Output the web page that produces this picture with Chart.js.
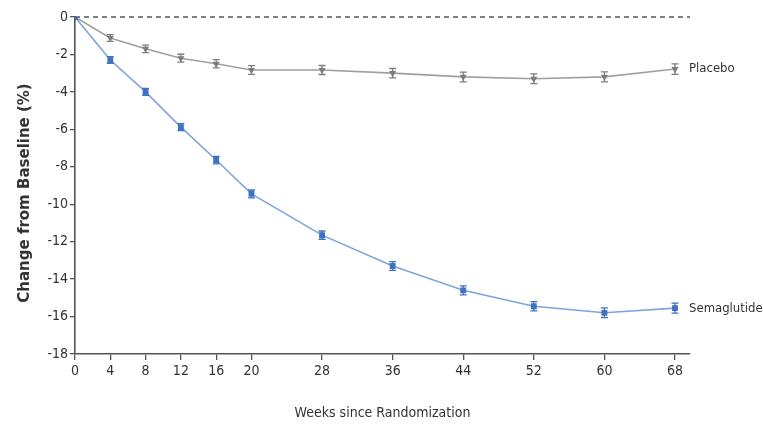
<!DOCTYPE html>
<html>
<head>
<meta charset="utf-8">
<script src="https://cdn.jsdelivr.net/npm/chart.js@4/dist/chart.umd.min.js"></script>
<style>
  html, body { margin: 0; padding: 0; background: #fff; }
  #wrap { width: 763px; height: 426px; }
</style>
</head>
<body>
<div id="wrap"><canvas id="chart" width="763" height="426"></canvas></div>
<script>
const weeks = [0, 4, 8, 12, 16, 20, 28, 36, 44, 52, 60, 68];
const xTicks = [0, 4, 8, 12, 16, 20, 28, 36, 44, 52, 60, 68];
const placebo = [0, -1.12, -1.7, -2.2, -2.5, -2.83, -2.83, -3.0, -3.2, -3.3, -3.2, -2.78];
const placeboErr = [0, 0.1, 0.12, 0.13, 0.14, 0.15, 0.16, 0.17, 0.18, 0.18, 0.19, 0.2];
const sema = [0, -2.3, -4.0, -5.88, -7.64, -9.45, -11.65, -13.3, -14.6, -15.45, -15.8, -15.55];
const semaErr = [0, 0.1, 0.1, 0.11, 0.12, 0.13, 0.14, 0.15, 0.16, 0.17, 0.18, 0.19];
const yTicks = [0, -2, -4, -6, -8, -10, -12, -14, -16, -18];

const FONT = '"Liberation Sans Narrow", "DejaVu Sans Condensed", sans-serif';

const extras = {
  id: 'extras',
  beforeDatasetsDraw(c) {
    const { ctx, chartArea, scales } = c;
    const y0 = scales.y.getPixelForValue(0);
    ctx.save();
    ctx.strokeStyle = '#555';
    ctx.lineWidth = 1.6;
    ctx.setLineDash([5, 4]);
    ctx.beginPath();
    ctx.moveTo(chartArea.left, y0);
    ctx.lineTo(chartArea.right, y0);
    ctx.stroke();
    ctx.restore();
  },
  afterDatasetsDraw(c) {
    const { ctx, scales } = c;
    const errs = [semaErr, placeboErr];
    ctx.save();
    c.data.datasets.forEach((ds, di) => {
      ctx.strokeStyle = ds.pointBackgroundColor;
      ctx.lineWidth = 1.3;
      ds.data.forEach((p, i) => {
        const e = errs[di][i];
        if (!e) return;
        const x = scales.x.getPixelForValue(p.x);
        const yt = scales.y.getPixelForValue(p.y + e) - 1.5;
        const yb = scales.y.getPixelForValue(p.y - e) + 1.5;
        ctx.beginPath();
        ctx.moveTo(x, yt); ctx.lineTo(x, yb);
        ctx.moveTo(x - 3.5, yt); ctx.lineTo(x + 3.5, yt);
        ctx.moveTo(x - 3.5, yb); ctx.lineTo(x + 3.5, yb);
        ctx.stroke();
      });
      const last = ds.data[ds.data.length - 1];
      ctx.fillStyle = '#333';
      ctx.font = '13px ' + FONT;
      ctx.textBaseline = 'middle';
      ctx.textAlign = 'left';
      ctx.fillText(ds.label, scales.x.getPixelForValue(last.x) + 14, scales.y.getPixelForValue(last.y));
    });

    // y axis title, placed slightly below the plot centre as in the source
    ctx.translate(25, 193);
    ctx.rotate(-Math.PI / 2);
    ctx.fillStyle = '#333';
    ctx.font = 'bold 15px "DejaVu Sans", sans-serif';
    ctx.textAlign = 'center';
    ctx.textBaseline = 'middle';
    ctx.fillText('Change from Baseline (%)', 0, 0);
    ctx.restore();
  }
};

new Chart(document.getElementById('chart'), {
  type: 'line',
  data: {
    datasets: [
      {
        label: 'Semaglutide',
        data: weeks.map((w, i) => ({ x: w, y: sema[i] })),
        borderColor: '#7da5dd',
        borderWidth: 1.6,
        pointStyle: 'rect',
        pointRadius: 3,
        pointBackgroundColor: '#3f72c2',
        pointBorderColor: '#3f72c2',
        tension: 0
      },
      {
        label: 'Placebo',
        data: weeks.map((w, i) => ({ x: w, y: placebo[i] })),
        borderColor: '#a0a0a0',
        borderWidth: 1.6,
        pointStyle: 'triangle',
        rotation: 180,
        pointRadius: 2.5,
        pointBackgroundColor: '#7d7d7d',
        pointBorderColor: '#7d7d7d',
        tension: 0
      }
    ]
  },
  options: {
    responsive: false,
    animation: false,
    layout: { padding: { left: 0, top: 17, right: 73, bottom: 0 } },
    plugins: { legend: { display: false }, tooltip: { enabled: false } },
    scales: {
      x: {
        type: 'linear',
        min: 0,
        max: 69.7,
        afterBuildTicks(s) { s.ticks = xTicks.map(v => ({ value: v })); },
        afterFit(s) { s.height = 72; },
        border: { display: true, color: '#555', width: 1.6 },
        grid: { drawOnChartArea: false, drawTicks: true, tickLength: 6, color: '#555', lineWidth: 1.3 },
        ticks: { color: '#333', font: { family: FONT, size: 14 }, padding: 3, maxRotation: 0, autoSkip: false },
        title: { display: true, text: 'Weeks since Randomization', color: '#333', font: { family: FONT, size: 14 }, padding: { top: 12 } }
      },
      y: {
        min: -18,
        max: 0,
        afterBuildTicks(s) { s.ticks = yTicks.map(v => ({ value: v })); },
        afterFit(s) { s.width = 75; },
        border: { display: true, color: '#555', width: 1.6 },
        grid: { drawOnChartArea: false, drawTicks: true, tickLength: 5, color: '#555', lineWidth: 1.3 },
        ticks: { color: '#333', font: { family: FONT, size: 14 }, padding: 2 }
      }
    }
  },
  plugins: [extras]
});
</script>
</body>
</html>
